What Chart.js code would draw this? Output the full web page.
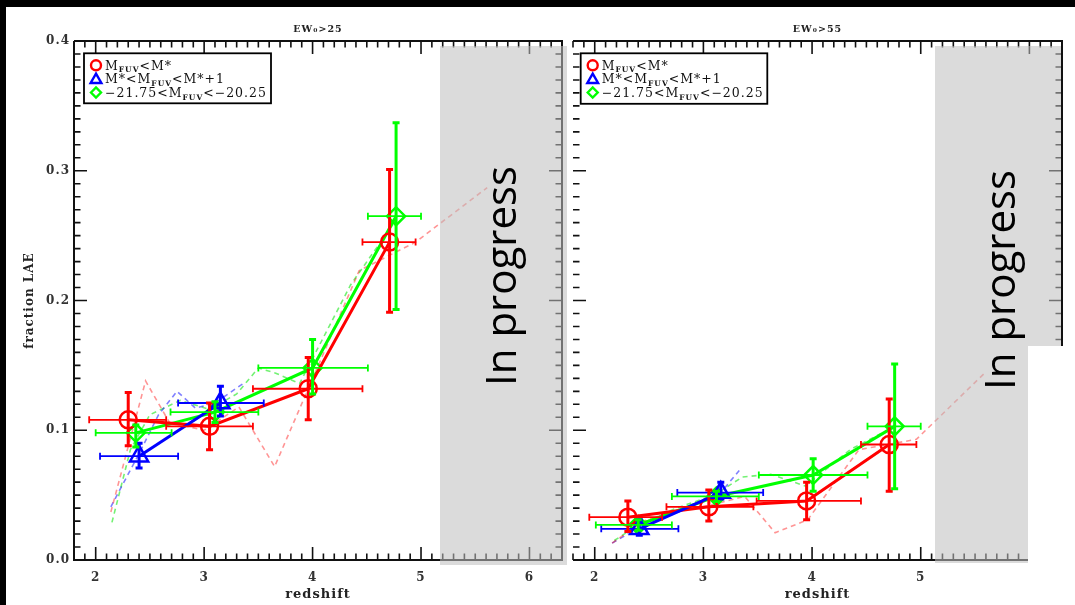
<!DOCTYPE html>
<html>
<head>
<meta charset="utf-8">
<script src="https://cdn.jsdelivr.net/npm/chart.js@4.4.1/dist/chart.umd.min.js"></script>
<style>
html,body{margin:0;padding:0;background:#000;width:1075px;height:605px;overflow:hidden;position:relative}
#sheet{position:absolute;left:6px;top:7px;width:1069px;height:598px;background:#fff}
canvas{position:absolute;top:0}
#c1{left:0}
#c2{left:560px}
.gray{position:absolute;background:rgba(190,190,190,0.56)}
.wbox{position:absolute;background:#fff}
.prog{position:absolute;font-family:'Open Sans';font-size:42px;line-height:1;white-space:nowrap;transform:rotate(-90deg);transform-origin:0 0;color:#000}
</style>
</head>
<body>
<div id="sheet"></div>
<canvas id="c1" width="575" height="605" style="width:575px;height:605px"></canvas>
<canvas id="c2" width="515" height="605" style="width:515px;height:605px"></canvas>
<div class="gray" style="left:440px;top:46px;width:127px;height:519px"></div>
<div class="gray" style="left:935px;top:46px;width:126px;height:517px"></div>
<div class="wbox" style="left:1028px;top:346px;width:47px;height:259px"></div>
<div class="prog" style="left:478.7px;top:386px">In progress</div>
<div class="prog" style="left:977.7px;top:390px">In progress</div>
<script>
// ---------- tick labels ----------
const xTickValsA = [2, 3, 4, 5, 6];
const xTickValsB = [2, 3, 4, 5];
const yTickVals = [0.0, 0.1, 0.2, 0.3, 0.4];
const panelTitles = ['EW\u2080>25', 'EW\u2080>55'];
const xTitle = 'redshift';
const yTitle = 'fraction LAE';
const legendLabels = [
  [['M', 0], ['FUV', 1], ['<M*', 0]],
  [['M*<M', 0], ['FUV', 1], ['<M*+1', 0]],
  [['\u221221.75<M', 0], ['FUV', 1], ['<\u221220.25', 0]]
];

// ---------- Panel A : EW0 > 25 ----------
const aRedZ   = [2.30, 3.05, 3.96, 4.71];
const aRedF   = [0.108, 0.103, 0.132, 0.245];
const aRedFlo = [0.088, 0.085, 0.108, 0.191];
const aRedFhi = [0.129, 0.121, 0.156, 0.301];
const aRedZlo = [1.94, 2.65, 3.45, 4.46];
const aRedZhi = [2.65, 3.45, 4.46, 4.95];

const aBlueZ   = [2.40, 3.15];
const aBlueF   = [0.080, 0.121];
const aBlueFlo = [0.071, 0.111];
const aBlueFhi = [0.090, 0.134];
const aBlueZlo = [2.04, 2.76];
const aBlueZhi = [2.76, 3.55];

const aGreenZ   = [2.37, 3.10, 4.00, 4.77];
const aGreenF   = [0.098, 0.114, 0.148, 0.265];
const aGreenFlo = [0.087, 0.106, 0.128, 0.193];
const aGreenFhi = [0.104, 0.122, 0.170, 0.337];
const aGreenZlo = [2.00, 2.69, 3.50, 4.51];
const aGreenZhi = [2.70, 3.50, 4.51, 5.00];

const aRedModelZ   = [2.14, 2.46, 2.68, 3.00, 3.32, 3.65, 3.96, 4.43, 4.95, 5.61];
const aRedModelF   = [0.037, 0.138, 0.106, 0.100, 0.118, 0.072, 0.132, 0.223, 0.245, 0.287];
const aBlueModelZ  = [2.14, 2.40, 2.58, 2.75, 2.92, 3.10, 3.36];
const aBlueModelF  = [0.041, 0.082, 0.112, 0.130, 0.117, 0.121, 0.136];
const aGreenModelZ = [2.15, 2.32, 2.50, 2.78, 3.05, 3.30, 3.50, 3.66, 3.88, 4.35, 4.77];
const aGreenModelF = [0.029, 0.085, 0.112, 0.123, 0.116, 0.128, 0.148, 0.144, 0.136, 0.212, 0.262];

// ---------- Panel B : EW0 > 55 ----------
const bRedZ   = [2.305, 3.05, 3.95, 4.71];
const bRedF   = [0.033, 0.041, 0.0455, 0.089];
const bRedFlo = [0.022, 0.030, 0.031, 0.053];
const bRedFhi = [0.0455, 0.054, 0.060, 0.124];
const bRedZlo = [1.95, 2.66, 3.49, 4.45];
const bRedZhi = [2.62, 3.46, 4.45, 4.96];

const bBlueZ   = [2.41, 3.16];
const bBlueF   = [0.024, 0.052];
const bBlueFlo = [0.019, 0.047];
const bBlueFhi = [0.031, 0.060];
const bBlueZlo = [2.06, 2.76];
const bBlueZhi = [2.77, 3.55];

const bGreenZ   = [2.40, 3.12, 4.01, 4.76];
const bGreenF   = [0.027, 0.049, 0.0655, 0.103];
const bGreenFlo = [0.023, 0.045, 0.053, 0.055];
const bGreenFhi = [0.031, 0.053, 0.078, 0.151];
const bGreenZlo = [2.01, 2.71, 3.51, 4.51];
const bGreenZhi = [2.71, 3.51, 4.51, 5.00];

const bRedModelZ   = [2.16, 2.45, 2.75, 3.05, 3.38, 3.66, 3.96, 4.43, 4.96, 5.60];
const bRedModelF   = [0.013, 0.030, 0.038, 0.042, 0.049, 0.021, 0.031, 0.085, 0.093, 0.145];
const bBlueModelZ  = [2.16, 2.41, 2.80, 3.16, 3.33];
const bBlueModelF  = [0.013, 0.025, 0.038, 0.052, 0.069];
const bGreenModelZ = [2.18, 2.40, 2.75, 3.10, 3.36, 3.62, 3.94, 4.35, 4.76];
const bGreenModelF = [0.015, 0.027, 0.040, 0.050, 0.064, 0.066, 0.057, 0.085, 0.103];

// ---------- styling ----------
const FONT = '"DejaVu Serif", serif';
const RED = '#ff0000', BLUE = '#0000ff', GREEN = '#00ff00';
const RED_D = 'rgba(255,0,0,0.42)', BLUE_D = 'rgba(0,0,255,0.5)', GREEN_D = 'rgba(0,230,0,0.55)';

function pts(xs, ys) { return xs.map((x, i) => ({ x: x, y: ys[i] })); }

function solid(color, style, radius, z, f, flo, fhi, zlo, zhi) {
  return {
    data: pts(z, f), showLine: true, borderColor: color, borderWidth: 3,
    pointStyle: style, pointRadius: radius, pointHoverRadius: radius,
    pointBorderWidth: 2.5, pointBorderColor: color, pointBackgroundColor: 'rgba(0,0,0,0)',
    err: { flo: flo, fhi: fhi, zlo: zlo, zhi: zhi }
  };
}
function model(color, z, f) {
  return { data: pts(z, f), showLine: true, borderColor: color, borderWidth: 1.6,
    borderDash: [5, 4], pointRadius: 0, pointHoverRadius: 0 };
}

const spacingPlugin = {
  id: 'spacing',
  beforeDraw(chart) { try { chart.ctx.letterSpacing = '1px'; } catch (e) {} }
};

const errorBarPlugin = {
  id: 'errbars',
  afterDatasetsDraw(chart) {
    const ctx = chart.ctx, x = chart.scales.x, y = chart.scales.y;
    ctx.save();
    chart.data.datasets.forEach(ds => {
      if (!ds.err) return;
      const e = ds.err;
      ctx.strokeStyle = ds.borderColor;
      ds.data.forEach((p, i) => {
        const px = x.getPixelForValue(p.x), py = y.getPixelForValue(p.y);
        const xl = x.getPixelForValue(e.zlo[i]), xr = x.getPixelForValue(e.zhi[i]);
        ctx.lineWidth = 1.8;
        ctx.beginPath();
        ctx.moveTo(xl, py); ctx.lineTo(xr, py);
        ctx.moveTo(xl, py - 3.5); ctx.lineTo(xl, py + 3.5);
        ctx.moveTo(xr, py - 3.5); ctx.lineTo(xr, py + 3.5);
        ctx.stroke();
        const yt = y.getPixelForValue(e.fhi[i]), yb = y.getPixelForValue(e.flo[i]);
        ctx.lineWidth = 3;
        ctx.beginPath();
        ctx.moveTo(px, yt); ctx.lineTo(px, yb);
        ctx.moveTo(px - 3.5, yt); ctx.lineTo(px + 3.5, yt);
        ctx.moveTo(px - 3.5, yb); ctx.lineTo(px + 3.5, yb);
        ctx.stroke();
      });
    });
    ctx.restore();
  }
};

const framePlugin = {
  id: 'idlFrame',
  afterDraw(chart, args, opts) {
    const ctx = chart.ctx, a = chart.chartArea, x = chart.scales.x, y = chart.scales.y;
    ctx.save();
    ctx.strokeStyle = '#111';
    ctx.lineWidth = 2;
    ctx.beginPath();
    ctx.moveTo(a.left, a.top); ctx.lineTo(a.right, a.top); ctx.lineTo(a.right, a.bottom); ctx.lineTo(a.left, a.bottom);
    if (opts.leftBorder) ctx.lineTo(a.left, a.top);
    ctx.stroke();
    ctx.lineWidth = 1.6;
    ctx.beginPath();
    for (let i = Math.ceil(x.min * 10 - 1e-9); i <= Math.floor(x.max * 10 + 1e-9); i++) {
      const len = (i % 10 === 0) ? 13 : 6.5, px = x.getPixelForValue(i / 10);
      ctx.moveTo(px, a.bottom); ctx.lineTo(px, a.bottom - len);
      ctx.moveTo(px, a.top); ctx.lineTo(px, a.top + len);
    }
    for (let i = Math.round(y.min * 100); i <= Math.round(y.max * 100); i++) {
      const len = (i % 10 === 0) ? 13 : 6.5, py = y.getPixelForValue(i / 100);
      ctx.moveTo(a.left, py); ctx.lineTo(a.left + len, py);
      ctx.moveTo(a.right, py); ctx.lineTo(a.right - len, py);
    }
    ctx.stroke();

    // legend box
    const L = opts.legend;
    ctx.lineWidth = 1.8;
    ctx.strokeStyle = '#000';
    ctx.strokeRect(L.x, L.y, L.w, L.h);
    const marks = [[RED, 'circle', 5], [BLUE, 'triangle', 6.2], [GREEN, 'rectRot', 5]];
    legendLabels.forEach((parts, r) => {
      const cy = L.y + 12 + r * 13.6;
      ctx.strokeStyle = marks[r][0];
      ctx.fillStyle = 'rgba(0,0,0,0)';
      ctx.lineWidth = 2.4;
      Chart.helpers.drawPoint(ctx, { pointStyle: marks[r][1], radius: marks[r][2], borderWidth: 2.4, rotation: 0 }, L.x + 12, cy + (r === 1 ? 1 : 0));
      ctx.fillStyle = '#111';
      ctx.textBaseline = 'alphabetic';
      ctx.textAlign = 'left';
      let cx = L.x + 21;
      parts.forEach(([t, sub]) => {
        ctx.font = sub ? 'bold 7.5px ' + FONT : '12.5px ' + FONT;
        ctx.fillText(t, cx, sub ? cy + 7 : cy + 4.5);
        cx += ctx.measureText(t).width;
      });
    });
    ctx.restore();
  }
};

function makeChart(id, panel, xTickVals, datasets, padding, showY, legend, leftBorder) {
  return new Chart(document.getElementById(id), {
    type: 'scatter',
    data: { datasets: datasets },
    options: {
      responsive: false, animation: false, devicePixelRatio: 1, events: [],
      layout: { padding: padding },
      plugins: {
        legend: { display: false }, tooltip: { enabled: false },
        title: { display: true, text: panelTitles[panel], fullSize: false, color: '#222',
          font: { family: FONT, size: 9.5, weight: 'bold' }, padding: { top: 24.3, bottom: 5.3 } },
        idlFrame: { legend: legend, leftBorder: leftBorder }
      },
      scales: {
        x: {
          type: 'linear', min: 1.8, max: 6.3,
          afterBuildTicks: s => { s.ticks = xTickVals.map(v => ({ value: v })); },
          afterFit: s => { s.height = 45; },
          grid: { display: false, drawTicks: false }, border: { display: false },
          ticks: { autoSkip: false, maxRotation: 0, padding: 10.4, color: '#333',
            font: { family: FONT, size: 12, weight: 'bold' }, callback: v => String(v) },
          title: { display: true, text: xTitle, color: '#222', font: { family: FONT, size: 13, weight: 'bold' },
            padding: { top: 0, bottom: 2.2 } }
        },
        y: {
          type: 'linear', min: 0, max: 0.4, display: showY,
          afterBuildTicks: s => { s.ticks = yTickVals.map(v => ({ value: v })); },
          afterFit: s => { s.width = showY ? 74 : 0; },
          grid: { display: false, drawTicks: false }, border: { display: false },
          ticks: { autoSkip: false, padding: 4, color: '#333',
            font: { family: FONT, size: 12, weight: 'bold' }, callback: v => Number(v).toFixed(1) },
          title: { display: true, text: yTitle, color: '#222', font: { family: FONT, size: 12, weight: 'bold' },
            padding: { top: 22.2, bottom: 0 } }
        }
      }
    },
    plugins: [spacingPlugin, errorBarPlugin, framePlugin]
  });
}

makeChart('c1', 0, xTickValsA, [
  solid(BLUE, 'triangle', 10.5, aBlueZ, aBlueF, aBlueFlo, aBlueFhi, aBlueZlo, aBlueZhi),
  solid(RED, 'circle', 8.5, aRedZ, aRedF, aRedFlo, aRedFhi, aRedZlo, aRedZhi),
  solid(GREEN, 'rectRot', 9, aGreenZ, aGreenF, aGreenFlo, aGreenFhi, aGreenZlo, aGreenZhi),
  model(RED_D, aRedModelZ, aRedModelF),
  model(BLUE_D, aBlueModelZ, aBlueModelF),
  model(GREEN_D, aGreenModelZ, aGreenModelF)
], { left: 0, right: 7, top: 0, bottom: 0 }, true, { x: 84, y: 53.3, w: 187, h: 50 }, true);

makeChart('c2', 1, xTickValsB, [
  solid(BLUE, 'triangle', 10.5, bBlueZ, bBlueF, bBlueFlo, bBlueFhi, bBlueZlo, bBlueZhi),
  solid(RED, 'circle', 8.5, bRedZ, bRedF, bRedFlo, bRedFhi, bRedZlo, bRedZhi),
  solid(GREEN, 'rectRot', 9, bGreenZ, bGreenF, bGreenFlo, bGreenFhi, bGreenZlo, bGreenZhi),
  model(RED_D, bRedModelZ, bRedModelF),
  model(BLUE_D, bBlueModelZ, bBlueModelF),
  model(GREEN_D, bGreenModelZ, bGreenModelF)
], { left: 9, right: 7, top: 0, bottom: 0 }, false, { x: 20.7, y: 53.3, w: 186.6, h: 50.5 }, false);
</script>
</body>
</html>
